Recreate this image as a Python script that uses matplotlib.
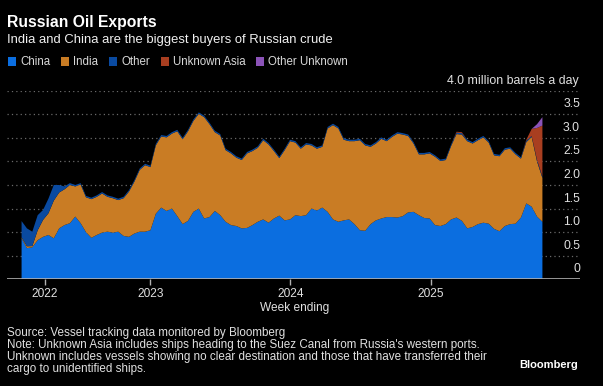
import matplotlib
matplotlib.use("Agg")
import matplotlib.pyplot as plt
import matplotlib.transforms as mtrans
from matplotlib.patches import Rectangle
import pandas as pd

# weekly series, sampled every two weeks (million barrels a day)
china = [0.87, 0.66, 0.68, 0.83, 0.90, 0.94, 0.87, 1.08, 1.15, 1.19,
         1.33, 1.19, 1.00, 0.88, 0.94, 0.99, 1.01, 0.99, 1.01, 0.92,
         0.90, 0.97, 1.01, 1.01, 1.04, 1.39, 1.52, 1.45, 1.50, 1.34,
         1.17, 1.24, 1.43, 1.50, 1.29, 1.32, 1.45, 1.36, 1.22, 1.15,
         1.13, 1.08, 1.09, 1.15, 1.22, 1.27, 1.20, 1.29, 1.35, 1.25,
         1.27, 1.36, 1.34, 1.36, 1.50, 1.46, 1.52, 1.43, 1.27, 1.22,
         1.25, 1.27, 1.17, 1.04, 1.03, 1.17, 1.25, 1.29, 1.32, 1.32,
         1.31, 1.34, 1.42, 1.43, 1.36, 1.30, 1.29, 1.15, 1.13, 1.17,
         1.27, 1.31, 1.24, 1.08, 1.11, 1.17, 1.20, 1.18, 1.07, 1.02,
         1.13, 1.17, 1.18, 1.31, 1.61, 1.54, 1.33, 1.22]
india = [0.02, 0.04, 0.025, 0.21, 0.36, 0.46, 0.80, 0.76, 0.76, 0.81,
         0.64, 0.82, 0.74, 0.82, 0.81, 0.83, 0.74, 0.73, 0.67, 0.80,
         0.96, 1.10, 1.31, 1.41, 1.34, 1.45, 1.51, 1.56, 1.59, 1.80,
         1.80, 1.90, 1.93, 2.01, 2.15, 1.97, 1.67, 1.69, 1.52, 1.52,
         1.45, 1.45, 1.58, 1.57, 1.57, 1.68, 1.66, 1.43, 1.22, 1.49,
         1.66, 1.54, 1.43, 1.50, 1.34, 1.31, 1.29, 1.77, 2.00, 1.98,
         1.71, 1.66, 1.76, 1.91, 1.81, 1.64, 1.63, 1.69, 1.61, 1.70,
         1.78, 1.73, 1.62, 1.45, 1.29, 1.35, 1.38, 1.45, 1.38, 1.36,
         1.56, 1.77, 1.83, 1.85, 1.77, 1.78, 1.81, 1.72, 1.56, 1.59,
         1.62, 1.60, 1.47, 1.25, 1.30, 1.48, 1.17, 0.93]
other = [0.345, 0.38, 0.305, 0.32, 0.21, 0.31, 0.33, 0.16, 0.06, 0.04,
         0.03, 0.03, 0.03, 0.03, 0.03, 0.03, 0.03, 0.03, 0.03, 0.03,
         0.03, 0.03, 0.03, 0.03, 0.03, 0.03, 0.03, 0.03, 0.03, 0.03,
         0.03, 0.03, 0.03, 0.03, 0.03, 0.03, 0.03, 0.03, 0.03, 0.03,
         0.03, 0.03, 0.03, 0.03, 0.03, 0.03, 0.03, 0.03, 0.03, 0.03,
         0.03, 0.03, 0.03, 0.03, 0.03, 0.03, 0.03, 0.03, 0.03, 0.03,
         0.03, 0.03, 0.03, 0.03, 0.03, 0.03, 0.03, 0.03, 0.03, 0.03,
         0.03, 0.03, 0.03, 0.03, 0.03, 0.03, 0.03, 0.03, 0.03, 0.03,
         0.03, 0.03, 0.03, 0.03, 0.03, 0.03, 0.03, 0.03, 0.03, 0.03,
         0.03, 0.03, 0.03, 0.03, 0.03, 0.02, 0.03, 0.03]
unk_asia = [0, 0, 0, 0, 0, 0, 0, 0, 0, 0,
            0, 0, 0, 0, 0, 0, 0, 0, 0, 0,
            0, 0, 0, 0, 0, 0, 0, 0, 0, 0,
            0, 0, 0, 0, 0, 0, 0, 0, 0, 0,
            0, 0, 0, 0, 0, 0, 0, 0, 0, 0,
            0, 0, 0, 0, 0, 0, 0, 0, 0, 0,
            0, 0, 0, 0, 0, 0, 0, 0, 0, 0,
            0, 0, 0, 0, 0, 0, 0, 0, 0, 0,
            0, 0.02, 0.02, 0, 0, 0, 0, 0, 0, 0,
            0, 0, 0, 0, 0.02, 0.15, 0.68, 1.08]
other_unk = [0, 0, 0, 0, 0, 0, 0, 0, 0, 0,
             0, 0, 0, 0, 0, 0, 0, 0, 0, 0,
             0, 0, 0, 0, 0, 0, 0, 0, 0, 0,
             0, 0, 0, 0, 0, 0, 0, 0, 0, 0,
             0, 0, 0, 0, 0, 0, 0, 0, 0, 0,
             0, 0, 0, 0, 0, 0, 0, 0, 0, 0,
             0, 0, 0, 0, 0, 0, 0, 0, 0, 0,
             0, 0, 0, 0, 0, 0, 0, 0, 0, 0,
             0, 0, 0, 0, 0, 0, 0, 0, 0, 0,
             0, 0, 0, 0, 0, 0, 0.08, 0.18]

dates = pd.date_range("2022-01-30", periods=len(china), freq="14D")

series_names = ["China", "India", "Other", "Unknown Asia", "Other Unknown"]
colors = ["#0b6ee0", "#c97c24", "#0a4aa0", "#a83e20", "#8b53b8"]
year_ticks = ["2022-03-31", "2023-01-01", "2024-01-01", "2025-01-01"]
year_labels = ["2022", "2023", "2024", "2025"]
y_ticks = [0, 0.5, 1.0, 1.5, 2.0, 2.5, 3.0, 3.5]

plt.rcParams["font.family"] = ["Liberation Sans", "DejaVu Sans"]

W, H = 603, 386
fig = plt.figure(figsize=(W / 100, H / 100), dpi=100, facecolor="black")

def fx(px):
    return px / W

def fy(py):
    return 1 - py / H

ax = fig.add_axes([fx(7), fy(279.3), fx(580) - fx(7), fy(90.7) - fy(279.3)])
ax.set_facecolor("black")

ax.stackplot(dates, china, india, other, unk_asia, other_unk,
             colors=colors, linewidth=0)

ax.set_xlim(pd.Timestamp("2021-12-23"), pd.Timestamp("2026-01-25"))
ax.set_ylim(0, 4.0)

# dotted grid lines, solid baseline
for v in y_ticks[1:] + [4.0]:
    ax.axhline(v, color="#6a6a6a", lw=0.9, ls=(0, (1, 2.5)), zorder=0.5)
ax.axhline(0, color="#b0b0b0", lw=1.2, zorder=3)

for s in ax.spines.values():
    s.set_visible(False)
ax.set_yticks([])
ax.set_xticks(pd.to_datetime(year_ticks))
ax.set_xticklabels(year_labels)
ax.tick_params(axis="x", colors="#b0b0b0", length=4, width=1,
               labelcolor="#e0e0e0", labelsize=8.6, pad=2)

# y labels sit above their grid line, right aligned
lab_tr = mtrans.offset_copy(ax.get_yaxis_transform(), fig=fig, y=7, units="dots")
for v in y_ticks:
    lab = "0" if v == 0 else f"{v:.1f}"
    ax.text(1.0, v, lab, transform=lab_tr, ha="right", va="baseline",
            color="#e0e0e0", fontsize=8.8)
ax.text(0.998, 4.0, "4.0 million barrels a day", transform=lab_tr,
        ha="right", va="baseline", color="#e0e0e0", fontsize=8.9)

fig.text(fx(294.5), fy(310.5), "Week ending", color="#e0e0e0", fontsize=8.6,
         ha="center", va="baseline")

# header
fig.text(fx(7), fy(27.3), "Russian Oil Exports", color="white", fontsize=11.3,
         fontweight="bold", va="baseline", ha="left")
fig.text(fx(7), fy(42.7), "India and China are the biggest buyers of Russian crude",
         color="#f0f0f0", fontsize=9.4, va="baseline", ha="left")

# legend
leg_x = [8.3, 61, 109, 160.5, 256]
for x0, name, c in zip(leg_x, series_names, colors):
    fig.add_artist(Rectangle((fx(x0), fy(65.5)), 8 / W, 8.5 / H,
                             transform=fig.transFigure, facecolor=c, lw=0))
    fig.text(fx(x0 + 12.5), fy(65), name, color="#d8d8d8", fontsize=8.3,
             va="baseline", ha="left")

# footer
notes = ["Source: Vessel tracking data monitored by Bloomberg",
         "Note: Unknown Asia includes ships heading to the Suez Canal from Russia's western ports.",
         "Unknown includes vessels showing no clear destination and those that have transferred their",
         "cargo to unidentified ships."]
for k, line in enumerate(notes):
    fig.text(fx(7), fy(336 + k * 11.9), line, color="#e0e0e0", fontsize=8.4,
             va="baseline", ha="left")
fig.text(fx(578), fy(368.5), "Bloomberg", color="white", fontsize=8,
         fontweight="bold", va="baseline", ha="right")

fig.savefig("out.png", dpi=100, facecolor="black")
